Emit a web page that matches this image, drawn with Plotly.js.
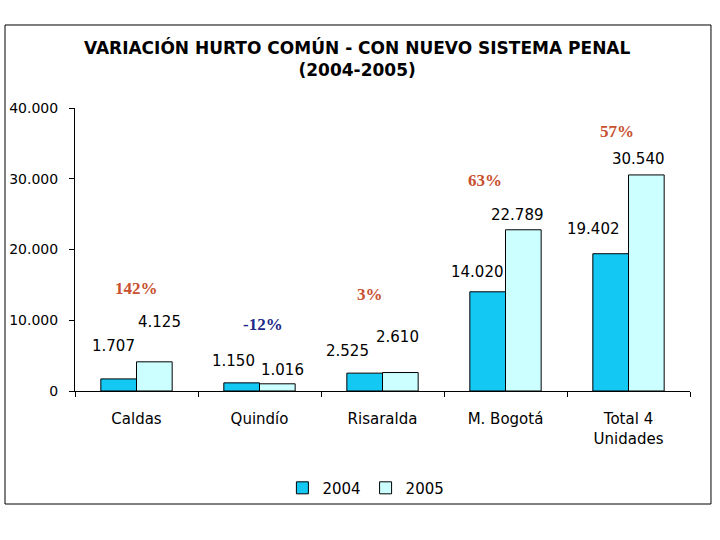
<!DOCTYPE html>
<html>
<head>
<meta charset="utf-8">
<script src="https://cdn.plot.ly/plotly-3.0.1.min.js"></script>
<style>html,body{margin:0;padding:0;background:#fff;}#chart{width:720px;height:540px;}</style>
</head>
<body>
<div id="chart"></div>
<script>
var categories = ["Caldas", "Quindío", "Risaralda", "M. Bogotá", "Total 4<br>Unidades"];
var values2004 = [1707, 1150, 2525, 14020, 19402];
var values2005 = [4125, 1016, 2610, 22789, 30540];
var seriesNames = ["2004", "2005"];
var yTicks = [0, 10000, 20000, 30000, 40000];

function fmt(v) {
  return String(v).replace(/\B(?=(\d{3})+(?!\d))/g, ".");
}

// label offsets (pixels) relative to bar top / category centre
var off2004 = [[-23, 33], [-26, 22], [-35, 22], [-28, 20], [-35, 25]];
var off2005 = [[23, 40], [23, 14], [15, 36], [12, 15], [10, 16]];
var offPct = [[0, 73], [3, 58], [-13, 78], [-21, 49], [-12, 43]];

var annotations = [];
for (var i = 0; i < categories.length; i++) {
  annotations.push({x: categories[i], y: values2004[i], xref: "x", yref: "y", text: fmt(values2004[i]),
    showarrow: false, xshift: off2004[i][0], yshift: off2004[i][1], yanchor: "middle",
    font: {family: "DejaVu Sans", size: 15, color: "#000"}});
  annotations.push({x: categories[i], y: values2005[i], xref: "x", yref: "y", text: fmt(values2005[i]),
    showarrow: false, xshift: off2005[i][0], yshift: off2005[i][1], yanchor: "middle",
    font: {family: "DejaVu Sans", size: 15, color: "#000"}});
  var pct = Math.round((values2005[i] - values2004[i]) / values2004[i] * 100);
  annotations.push({x: categories[i], y: Math.max(values2004[i], values2005[i]), xref: "x", yref: "y",
    text: "<b>" + pct + "%</b>", showarrow: false, xshift: offPct[i][0], yshift: offPct[i][1], yanchor: "middle",
    font: {family: "Liberation Serif", size: 17, color: pct < 0 ? "#1f2a8a" : "#c8502f"}});
}

var traces = [
  {type: "bar", name: seriesNames[0], x: categories, y: values2004,
   marker: {color: "#14c8f4", line: {color: "#000", width: 1}}},
  {type: "bar", name: seriesNames[1], x: categories, y: values2005,
   marker: {color: "#ccffff", line: {color: "#000", width: 1}}}
];

var layout = {
  width: 720, height: 540,
  paper_bgcolor: "#fff", plot_bgcolor: "#fff",
  separators: ",.",
  margin: {l: 75, r: 30, t: 108, b: 149},
  barmode: "group", bargap: 0.42, bargroupgap: 0,
  title: {text: "<b>VARIACIÓN HURTO COMÚN - CON NUEVO SISTEMA PENAL<br>(2004-2005)</b>",
    x: 0.496, xref: "container", xanchor: "center", y: 0.9, yref: "container", yanchor: "top",
    font: {family: "DejaVu Sans", size: 17, color: "#000"}},
  xaxis: {type: "category", showline: true, linecolor: "#000", linewidth: 1,
    ticks: "outside", tickson: "boundaries", ticklen: 5, tickcolor: "#000", ticklabelstandoff: 14,
    showgrid: false, tickfont: {family: "DejaVu Sans", size: 15, color: "#000"}},
  yaxis: {range: [0, 40000], tickvals: yTicks, ticktext: yTicks.map(fmt), showline: true,
    linecolor: "#000", linewidth: 1, ticks: "outside", ticklen: 5, tickcolor: "#000", ticklabelstandoff: 8,
    showgrid: false, zeroline: false, tickfont: {family: "DejaVu Sans", size: 14, color: "#000"}},
  showlegend: true,
  legend: {orientation: "h", x: 0.473, xanchor: "center", y: -0.343, yanchor: "middle",
    bgcolor: "rgba(0,0,0,0)",
    font: {family: "DejaVu Sans", size: 15, color: "#000"}, itemwidth: 30, traceorder: "normal"},
  annotations: annotations,
  shapes: [{type: "rect", xref: "paper", yref: "paper", x0: -0.1138, x1: 1.0341, y0: -0.3993, y1: 1.2933,
    line: {color: "#000", width: 1}, fillcolor: "rgba(0,0,0,0)", layer: "below"}]
};

Plotly.newPlot("chart", traces, layout, {displayModeBar: false, staticPlot: true});
</script>
</body>
</html>
